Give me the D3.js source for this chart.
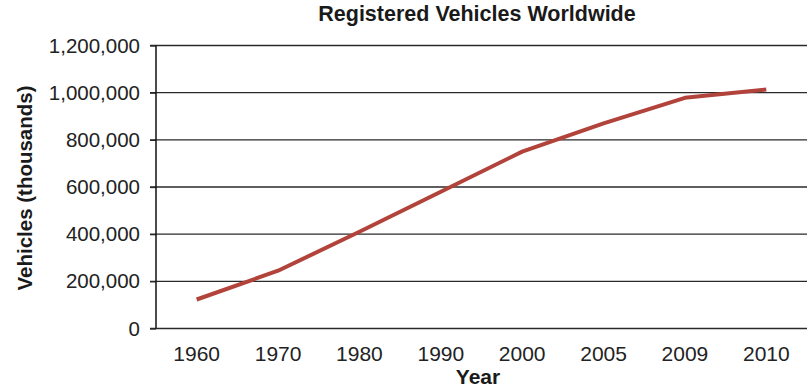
<!DOCTYPE html>
<html>
<head>
<meta charset="utf-8">
<script src="https://cdn.jsdelivr.net/npm/d3@7"></script>
<style>
  body { margin: 0; background: #fff; }
  svg { display: block; font-family: "Liberation Sans", Arial, Helvetica, sans-serif; }
</style>
</head>
<body>
<div id="chart"></div>
<script>
// data
let years = ["1960", "1970", "1980", "1990", "2000", "2005", "2009", "2010"];
let vehicles = [123000, 245000, 410000, 580000, 750000, 870000, 978000, 1013000];
let yTicks = [0, 200000, 400000, 600000, 800000, 1000000, 1200000];

let width = 807, height = 390;
let plotLeft = 156, plotRight = 807, plotTop = 45.5, plotBottom = 328.5;

let svg = d3.select('#chart').append('svg').attr('width', width).attr('height', height);

let x = d3.scaleBand().domain(years).range([plotLeft, plotRight]);
let y = d3.scaleLinear().domain([0, 1200000]).range([plotBottom, plotTop]);

// gridlines
svg.append('g').selectAll('line').data(yTicks).join('line')
  .attr('x1', plotLeft - 6).attr('x2', plotRight)
  .attr('y1', d => y(d)).attr('y2', d => y(d))
  .attr('stroke', '#2a2a2a').attr('stroke-width', 1.3);

// y axis
let yAxis = svg.append('g').attr('transform', `translate(${plotLeft},0)`)
  .call(d3.axisLeft(y).tickValues(yTicks).tickSize(6).tickPadding(10).tickFormat(d3.format(',')));
yAxis.select('.domain').remove();
yAxis.selectAll('line').attr('stroke', '#2a2a2a').attr('stroke-width', 1.3);
yAxis.selectAll('text').attr('font-size', 20.5).attr('fill', '#222');
yAxis.attr('font-family', null).attr('font-size', null);

svg.append('line').attr('x1', plotLeft).attr('x2', plotLeft).attr('y1', plotTop).attr('y2', plotBottom)
  .attr('stroke', '#111').attr('stroke-width', 1.5);

// x axis labels
let xAxis = svg.append('g').attr('transform', `translate(0,${plotBottom})`)
  .call(d3.axisBottom(x).tickSize(0).tickPadding(18));
xAxis.select('.domain').remove();
xAxis.selectAll('text').attr('font-size', 21).attr('fill', '#222');
xAxis.attr('font-family', null).attr('font-size', null);

// line
let line = d3.line().x((d, i) => x(years[i]) + x.bandwidth() / 2).y(d => y(d));
svg.append('path').datum(vehicles).attr('d', line)
  .attr('fill', 'none').attr('stroke', '#b2433b').attr('stroke-width', 4).attr('stroke-linejoin', 'round');

// titles
svg.append('text').attr('x', 477).attr('y', 20.5).attr('text-anchor', 'middle')
  .attr('font-size', 21.5).attr('font-weight', 'bold').attr('fill', '#1a1a1a')
  .text('Registered Vehicles Worldwide');
svg.append('text').attr('x', 478).attr('y', 384).attr('text-anchor', 'middle')
  .attr('font-size', 21).attr('font-weight', 'bold').attr('fill', '#1a1a1a')
  .text('Year');
svg.append('text').attr('transform', 'translate(32,188) rotate(-90)').attr('text-anchor', 'middle')
  .attr('font-size', 20.5).attr('font-weight', 'bold').attr('fill', '#1a1a1a')
  .text('Vehicles (thousands)');
</script>
</body>
</html>
